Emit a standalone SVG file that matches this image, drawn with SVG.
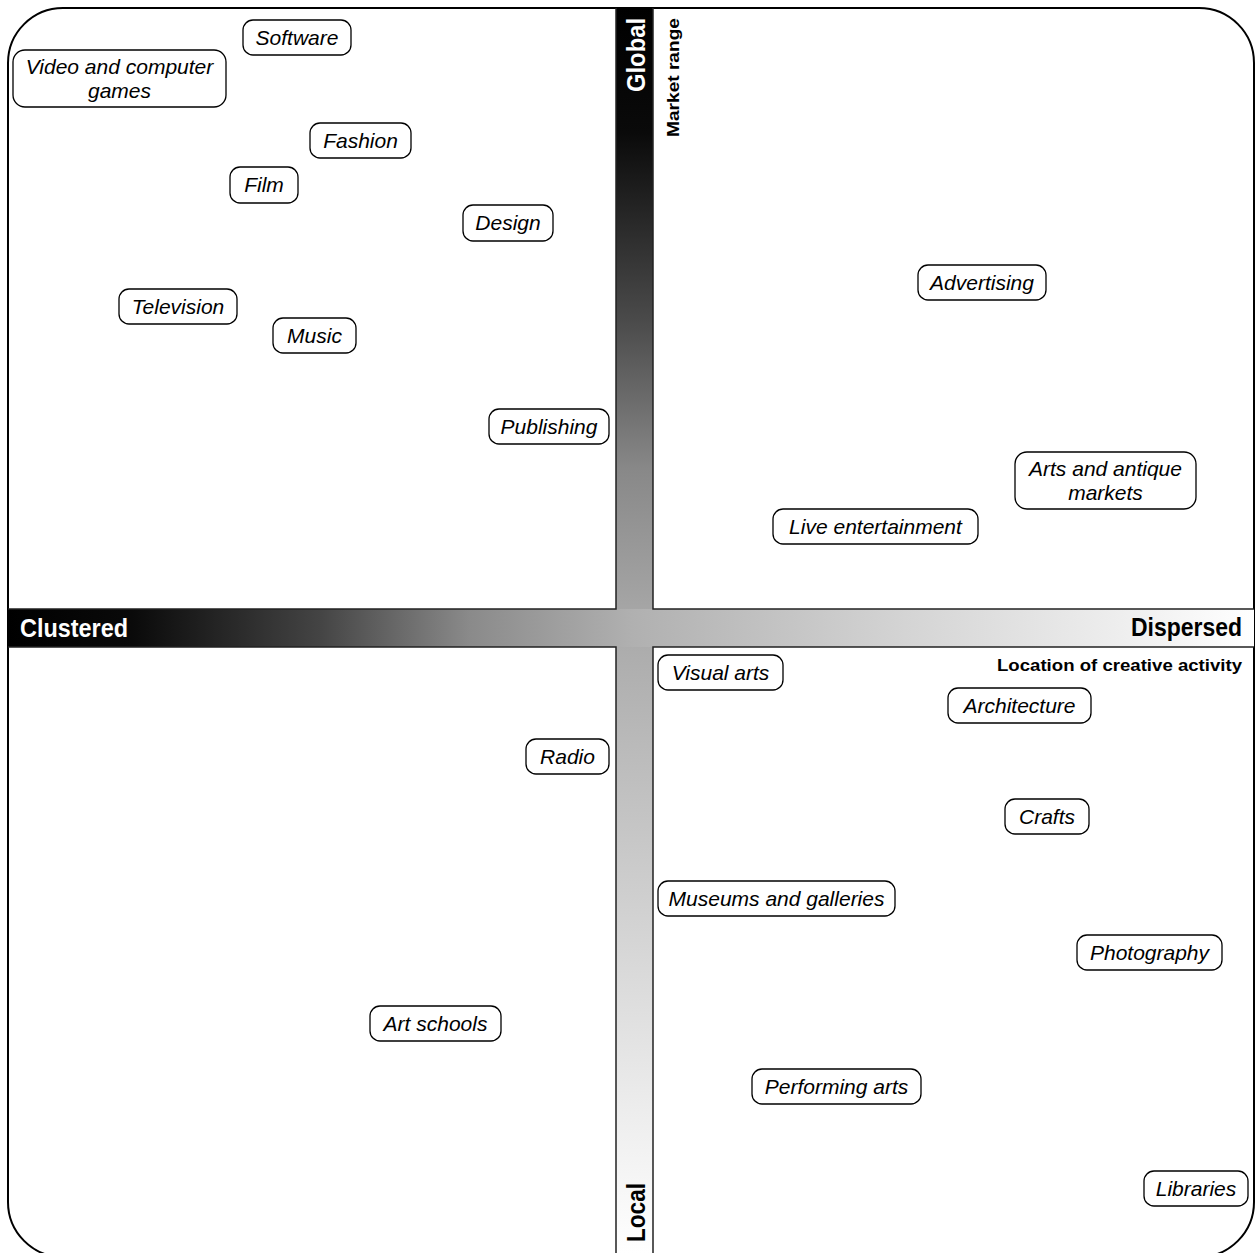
<svg xmlns="http://www.w3.org/2000/svg" width="1255" height="1253" viewBox="0 0 1255 1253">
<style>
.node rect{fill:#fff;stroke:#000;stroke-width:1.3}
.node text{font-family:"Liberation Sans",Arial,sans-serif;font-style:italic;font-size:21px;fill:#000;text-anchor:middle}
.ax{font-family:"Liberation Sans",Arial,sans-serif;font-weight:bold}
</style>
<defs>
<linearGradient id="gv" gradientUnits="userSpaceOnUse" x1="0" y1="8" x2="0" y2="1253">
<stop offset="0" stop-color="#000"/>
<stop offset="0.1" stop-color="#0a0a0a"/>
<stop offset="0.25" stop-color="#4a4a4a"/>
<stop offset="0.37" stop-color="#888"/>
<stop offset="0.5" stop-color="#aaa"/>
<stop offset="0.72" stop-color="#d0d0d0"/>
<stop offset="0.88" stop-color="#ececec"/>
<stop offset="1" stop-color="#fff"/>
</linearGradient>
<linearGradient id="gh" gradientUnits="userSpaceOnUse" x1="8" y1="0" x2="1254" y2="0">
<stop offset="0" stop-color="#000"/>
<stop offset="0.1" stop-color="#0a0a0a"/>
<stop offset="0.25" stop-color="#444"/>
<stop offset="0.37" stop-color="#8a8a8a"/>
<stop offset="0.5" stop-color="#b0b0b0"/>
<stop offset="0.72" stop-color="#d4d4d4"/>
<stop offset="0.88" stop-color="#ececec"/>
<stop offset="1" stop-color="#fff"/>
</linearGradient>
</defs>
<rect x="8" y="8" width="1246" height="1249" rx="55" ry="55" fill="#fff" stroke="#000" stroke-width="2"/>
<g id="axes">
<rect x="616" y="8" width="37" height="1250" fill="url(#gv)"/>
<rect x="8" y="609" width="1246" height="38" fill="url(#gh)"/>
<path d="M616,8 V609 H8 M8,647 H616 V1253 M653,8 V609 H1254 M1254,647 H653 V1253" fill="none" stroke="#222" stroke-width="1.5"/>
<text class="ax" x="20" y="637" font-size="25" fill="#fff" textLength="108" lengthAdjust="spacingAndGlyphs">Clustered</text>
<text class="ax" x="1131" y="636" font-size="25" fill="#000" textLength="111" lengthAdjust="spacingAndGlyphs">Dispersed</text>
<text class="ax" x="997" y="671" font-size="17" fill="#000" textLength="245" lengthAdjust="spacingAndGlyphs">Location of creative activity</text>
<text class="ax" transform="translate(645,92) rotate(-90)" font-size="25" fill="#fff" textLength="74" lengthAdjust="spacingAndGlyphs">Global</text>
<text class="ax" transform="translate(679,137) rotate(-90)" font-size="17" fill="#000" textLength="119" lengthAdjust="spacingAndGlyphs">Market range</text>
<text class="ax" transform="translate(645,1242) rotate(-90)" font-size="25" fill="#000" textLength="59" lengthAdjust="spacingAndGlyphs">Local</text>
</g>
<g id="connectors"></g>
<g id="n-software" class="node"><rect x="243" y="20" width="108" height="35" rx="10"/><text x="297" y="45">Software</text></g>
<g id="n-games" class="node"><rect x="13" y="50" width="213" height="57" rx="12"/><text x="119.5" y="74">Video and computer</text><text x="119.5" y="98">games</text></g>
<g id="n-fashion" class="node"><rect x="310" y="123" width="101" height="35" rx="10"/><text x="360.5" y="148">Fashion</text></g>
<g id="n-film" class="node"><rect x="230" y="167" width="68" height="36" rx="10"/><text x="264" y="192">Film</text></g>
<g id="n-design" class="node"><rect x="463" y="205" width="90" height="36" rx="10"/><text x="508" y="230">Design</text></g>
<g id="n-television" class="node"><rect x="119" y="289" width="118" height="35" rx="10"/><text x="178" y="314">Television</text></g>
<g id="n-music" class="node"><rect x="273" y="318" width="83" height="35" rx="10"/><text x="314.5" y="343">Music</text></g>
<g id="n-publishing" class="node"><rect x="489" y="409" width="120" height="35" rx="10"/><text x="549" y="434">Publishing</text></g>
<g id="n-advertising" class="node"><rect x="918" y="265" width="128" height="35" rx="10"/><text x="982" y="290">Advertising</text></g>
<g id="n-arts" class="node"><rect x="1015" y="452" width="181" height="57" rx="12"/><text x="1105.5" y="476">Arts and antique</text><text x="1105.5" y="500">markets</text></g>
<g id="n-live" class="node"><rect x="773" y="509" width="205" height="35" rx="10"/><text x="875.5" y="534">Live entertainment</text></g>
<g id="n-visual" class="node"><rect x="658" y="655" width="125" height="35" rx="10"/><text x="720.5" y="680">Visual arts</text></g>
<g id="n-architecture" class="node"><rect x="948" y="688" width="143" height="35" rx="10"/><text x="1019.5" y="713">Architecture</text></g>
<g id="n-radio" class="node"><rect x="526" y="739" width="83" height="35" rx="10"/><text x="567.5" y="764">Radio</text></g>
<g id="n-crafts" class="node"><rect x="1005" y="799" width="84" height="35" rx="10"/><text x="1047" y="824">Crafts</text></g>
<g id="n-museums" class="node"><rect x="658" y="881" width="237" height="35" rx="10"/><text x="776.5" y="906">Museums and galleries</text></g>
<g id="n-photography" class="node"><rect x="1077" y="935" width="145" height="35" rx="10"/><text x="1149.5" y="960">Photography</text></g>
<g id="n-artschools" class="node"><rect x="370" y="1006" width="131" height="35" rx="10"/><text x="435.5" y="1031">Art schools</text></g>
<g id="n-performing" class="node"><rect x="752" y="1069" width="169" height="35" rx="10"/><text x="836.5" y="1094">Performing arts</text></g>
<g id="n-libraries" class="node"><rect x="1144" y="1171" width="104" height="35" rx="10"/><text x="1196" y="1196">Libraries</text></g>
</svg>
